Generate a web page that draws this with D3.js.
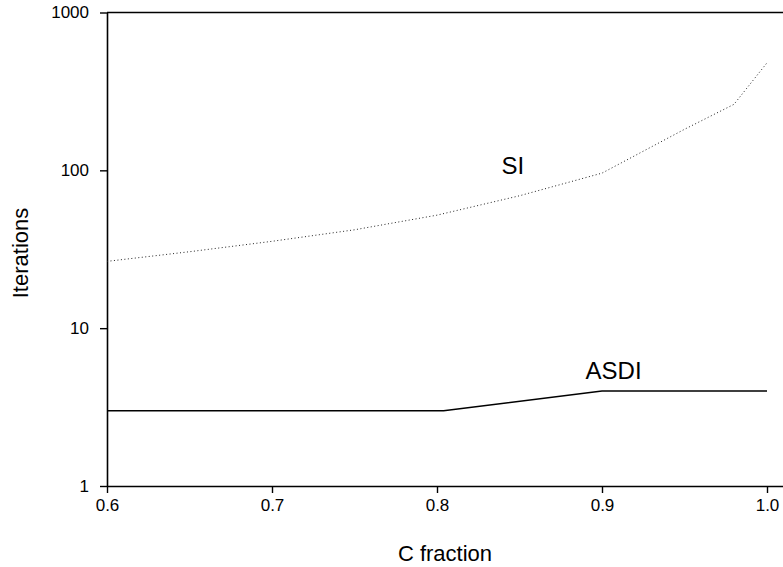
<!DOCTYPE html>
<html>
<head>
<meta charset="utf-8">
<script src="https://cdn.jsdelivr.net/npm/d3@7"></script>
<style>
  body { margin: 0; background: #fff; }
  svg { font-family: "Liberation Sans", Arial, sans-serif; }
  .tick text { font-size: 17px; fill: #000; }
  .axis-label { font-size: 22px; fill: #000; }
  .series-label { font-size: 24px; fill: #000; }
</style>
</head>
<body>
<svg width="783" height="567"></svg>
<script>
const svg = d3.select("svg");
const width = +svg.attr("width");
const height = +svg.attr("height");

// C fraction values and iteration counts
const siX = [0.6, 0.65, 0.7, 0.75, 0.8, 0.85, 0.9, 0.95, 0.98, 1.0];
const siY = [26.5, 30.5, 35.5, 42, 52, 69, 96, 182, 262, 480];
const asdiX = [0.6, 0.7, 0.804, 0.9, 1.0];
const asdiY = [3, 3, 3, 4, 4];
const xTicks = [0.6, 0.7, 0.8, 0.9, 1.0];
const yTicks = [1, 10, 100, 1000];
const seriesLabels = [
  { name: "SI", x: 0.846, y: 95 },
  { name: "ASDI", x: 0.907, y: 4.77 }
];

const margin = { top: 12.5, right: 0, bottom: 81, left: 107 };
const innerWidth = width - margin.left - margin.right;
const innerHeight = height - margin.top - margin.bottom;

// plot box runs past 1.0 and is cut by the right edge
const xScale = d3.scaleLinear()
  .domain([0.6, 0.6 + innerWidth / 1650])
  .range([0, innerWidth]);

const yScale = d3.scaleLog()
  .domain([1, 1000])
  .range([innerHeight, 0]);

const g = svg.append("g")
  .attr("transform", `translate(${margin.left},${margin.top})`);

const xAxis = d3.axisBottom(xScale)
  .tickValues(xTicks)
  .tickFormat(d3.format(".1f"))
  .tickSize(7)
  .tickSizeOuter(0)
  .tickPadding(6);

const yAxis = d3.axisLeft(yScale)
  .tickValues(yTicks)
  .tickFormat(d3.format("d"))
  .tickSize(7)
  .tickSizeOuter(0)
  .tickPadding(11);

const xAxisG = g.append("g")
  .attr("transform", `translate(0,${innerHeight})`)
  .call(xAxis);

const yAxisG = g.append("g").call(yAxis);

[xAxisG, yAxisG].forEach(a => {
  a.selectAll(".domain").attr("stroke", "#000").attr("stroke-width", 1.6);
  a.selectAll(".tick line").attr("stroke", "#000").attr("stroke-width", 1.4);
});

// top frame line
g.append("line")
  .attr("x1", 0).attr("x2", innerWidth)
  .attr("y1", 0).attr("y2", 0)
  .attr("stroke", "#000")
  .attr("stroke-width", 1.6);

const line = d3.line()
  .x(d => xScale(d[0]))
  .y(d => yScale(d[1]));

g.append("path")
  .datum(siX.map((x, i) => [x, siY[i]]))
  .attr("fill", "none")
  .attr("stroke", "#222")
  .attr("stroke-width", 1)
  .attr("stroke-dasharray", "1,2.5")
  .attr("d", line);

g.append("path")
  .datum(asdiX.map((x, i) => [x, asdiY[i]]))
  .attr("fill", "none")
  .attr("stroke", "#000")
  .attr("stroke-width", 1.5)
  .attr("d", line);

g.selectAll(".series-label")
  .data(seriesLabels)
  .enter()
  .append("text")
  .attr("class", "series-label")
  .attr("x", d => xScale(d.x))
  .attr("y", d => yScale(d.y))
  .attr("text-anchor", "middle")
  .text(d => d.name);

svg.append("text")
  .attr("class", "axis-label")
  .attr("x", margin.left + xScale(0.8) + 8)
  .attr("y", 561)
  .attr("text-anchor", "middle")
  .text("C fraction");

svg.append("text")
  .attr("class", "axis-label")
  .attr("transform", `translate(28,253) rotate(-90)`)
  .attr("text-anchor", "middle")
  .text("Iterations");
</script>
</body>
</html>
